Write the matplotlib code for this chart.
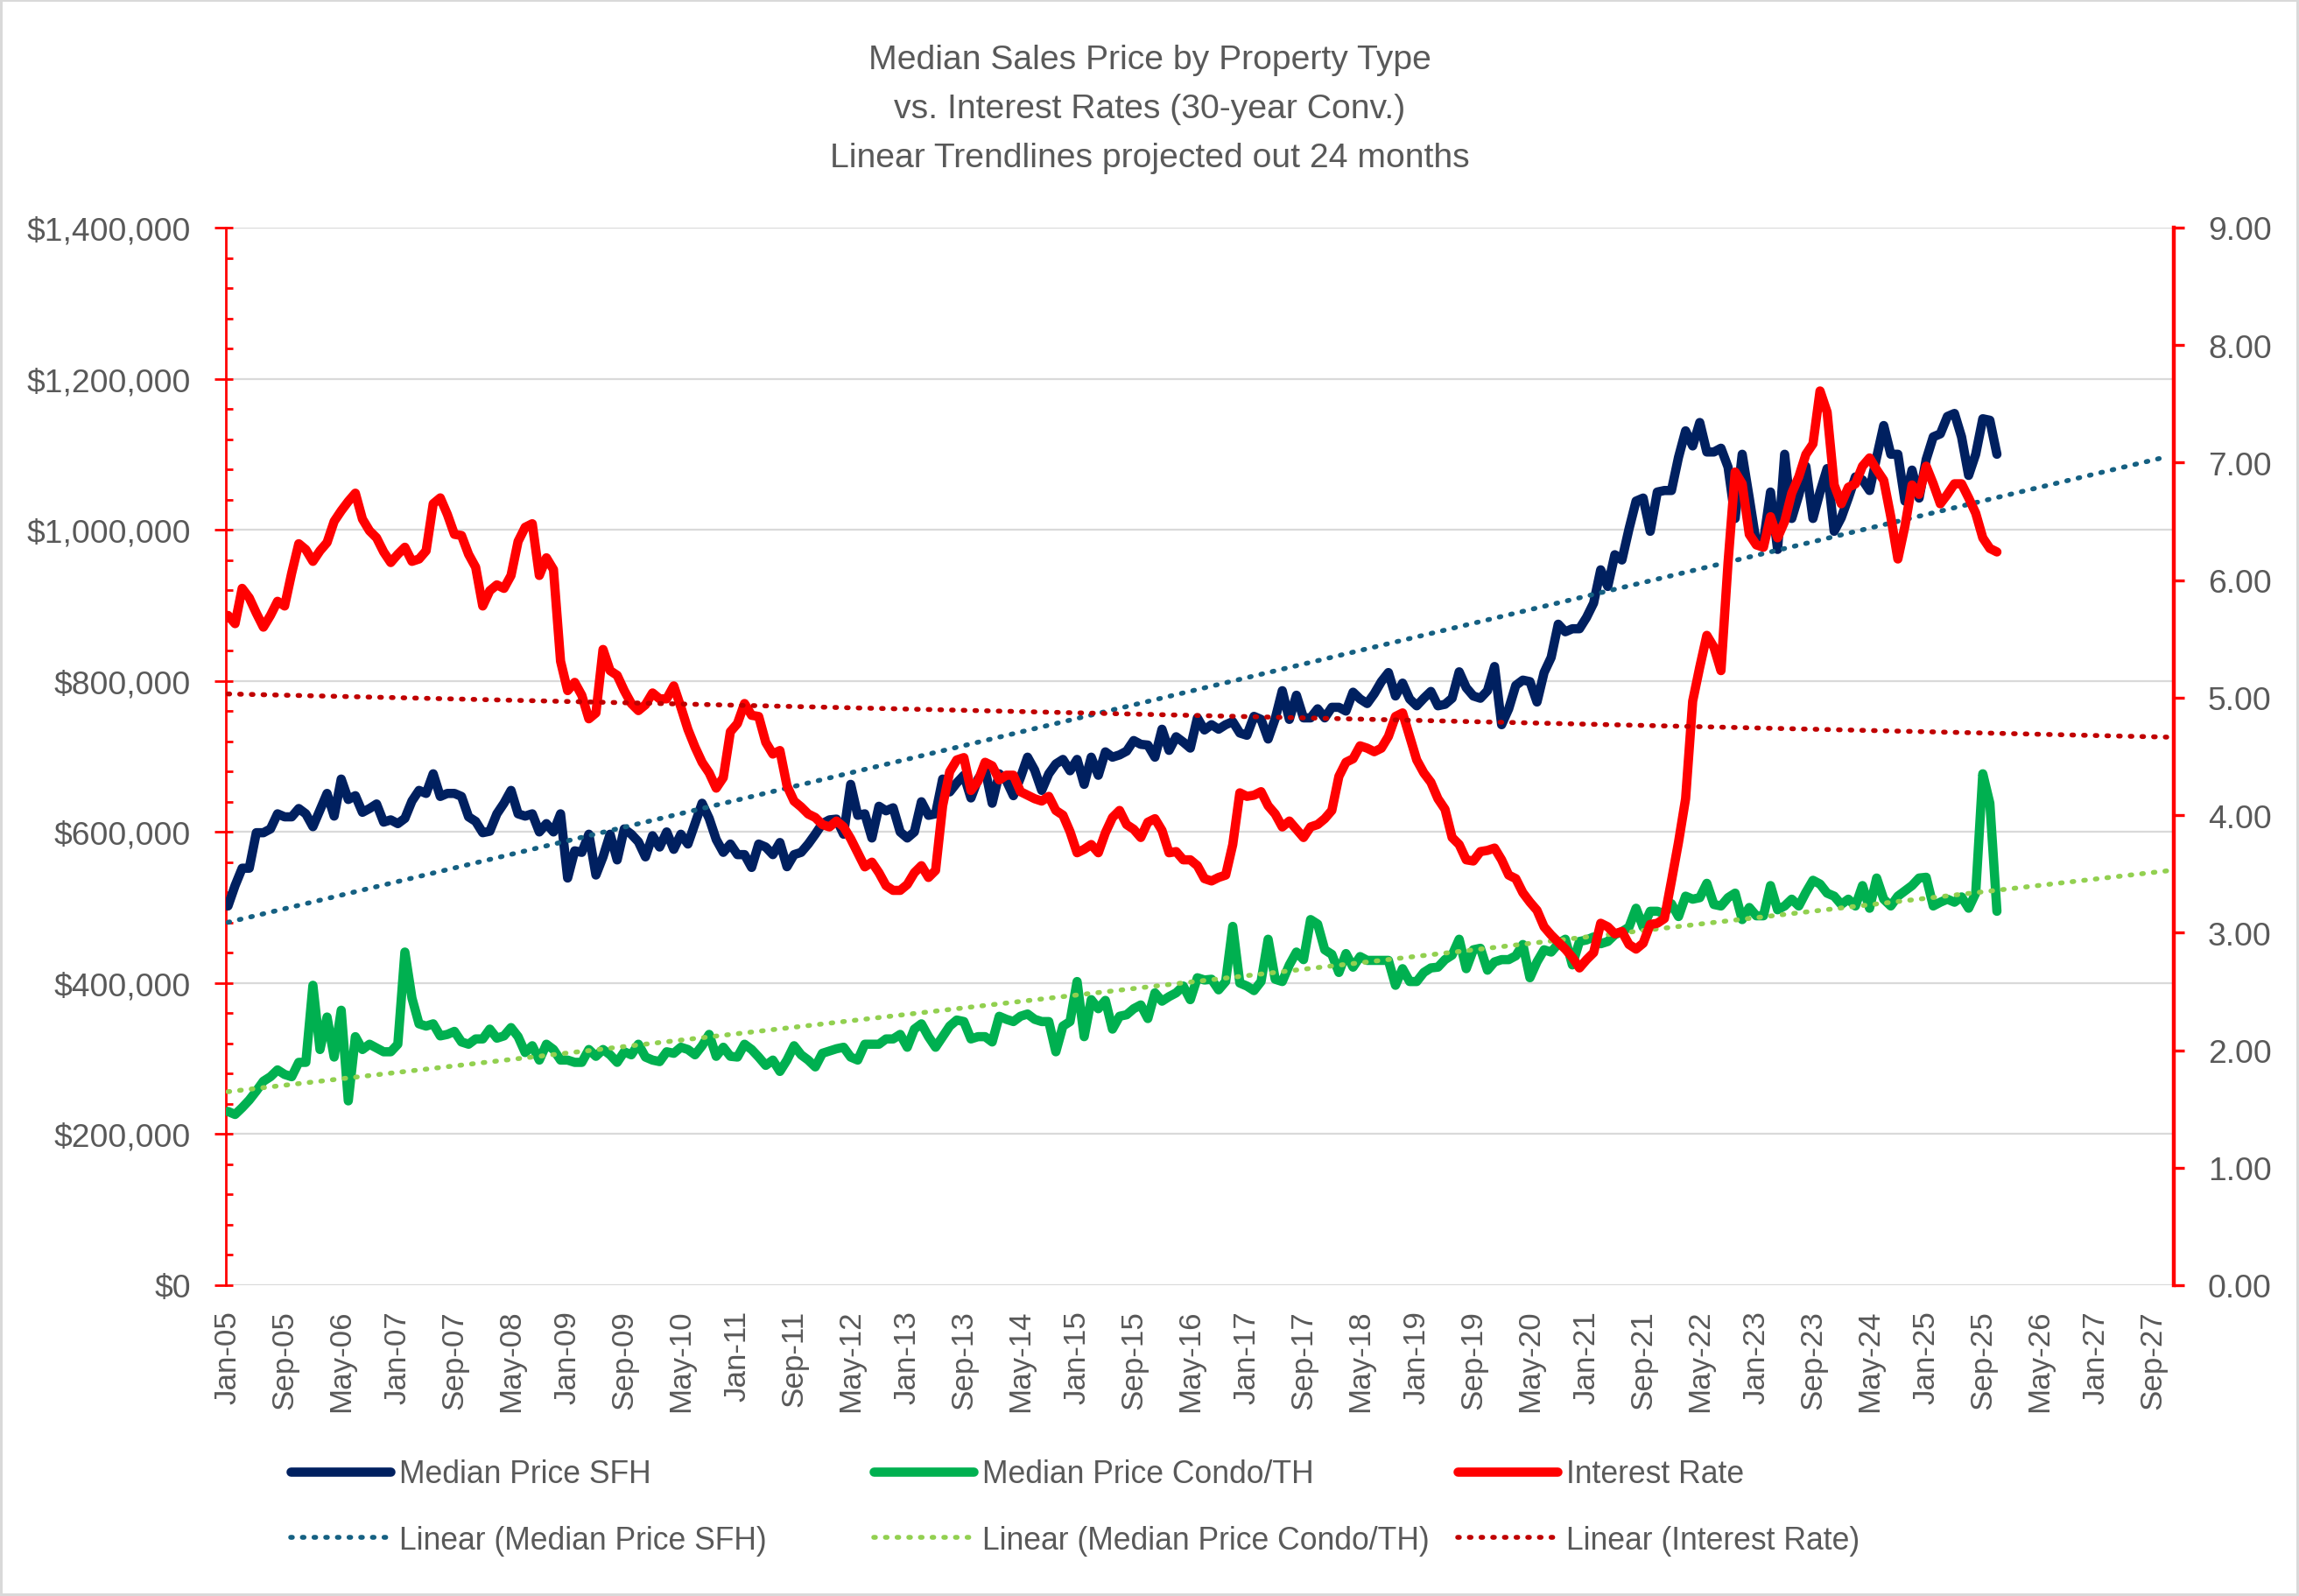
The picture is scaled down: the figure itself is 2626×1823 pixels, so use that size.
import numpy as np
import matplotlib
matplotlib.use("Agg")
import matplotlib.pyplot as plt
from matplotlib.ticker import MultipleLocator, FuncFormatter

# ---------------- data (monthly, Jan-05 .. Nov-25) ----------------
sfh_k = [
    502, 529, 552, 552, 599, 599, 604, 624, 620, 620,
    631, 624, 607, 629, 651, 621, 670, 643, 648, 626,
    631, 637, 613, 616, 611, 618, 641, 655, 651, 677,
    647, 651, 651, 647, 620, 614, 599, 601, 624, 638,
    655, 624, 621, 624, 600, 611, 600, 624, 539, 575,
    573, 597, 543, 567, 597, 563, 604, 597, 587, 567,
    595, 580, 600, 577, 597, 584, 611, 638, 618, 590,
    573, 584, 570, 570, 553, 584, 580, 570, 586, 554,
    570, 573, 584, 597, 611, 616, 617, 597, 663, 622,
    624, 592, 634, 628, 632, 600, 592, 600, 640, 622,
    624, 670, 653, 665, 675, 645, 670, 683, 638, 677,
    668, 648, 672, 699, 682, 655, 677, 690, 696, 681,
    696, 663, 699, 675, 706, 699, 702, 707, 721, 716,
    715, 699, 736, 708, 726, 719, 711, 751, 735, 742,
    736, 742, 746, 731, 728, 753, 749, 723, 750, 787,
    749, 781, 751, 751, 763, 751, 765, 765, 760, 785,
    776, 770, 783, 799, 811, 780, 797, 776, 767, 777,
    786, 767, 769, 777, 812, 791, 780, 777, 787, 819,
    742, 763, 794, 801, 799, 772, 811, 831, 875, 865,
    869, 869, 884, 903, 947, 925, 967, 960, 1001, 1038,
    1042, 998, 1050, 1052, 1052, 1096, 1131, 1111, 1142, 1103,
    1103, 1108, 1083, 1015, 1100, 1042, 982, 984, 1050, 974,
    1100, 1015, 1046, 1084, 1015, 1050, 1081, 998, 1016, 1042,
    1070, 1066, 1052, 1096, 1138, 1100, 1100, 1038, 1079, 1042,
    1093, 1123, 1127, 1150, 1154, 1123, 1072, 1100, 1147, 1145,
    1100,
]

condo_k = [
    230, 226, 235, 245, 257, 270, 276, 285, 279, 276,
    295, 295, 397, 312, 355, 302, 364, 244, 329, 312,
    319, 314, 309, 309, 319, 441, 380, 346, 343, 346,
    330, 332, 336, 322, 319, 326, 326, 339, 327, 330,
    341, 329, 308, 317, 298, 319, 312, 298, 298, 295,
    295, 312, 303, 312, 305, 295, 309, 305, 319, 302,
    298, 296, 309, 307, 315, 312, 305, 317, 332, 303,
    315, 303, 302, 319, 312, 302, 291, 298, 283, 298,
    317, 305, 298, 289, 307, 310, 313, 315, 302, 298,
    319, 319, 319, 326, 326, 332, 315, 339, 346, 329,
    315, 329, 343, 351, 349, 326, 329, 329, 322, 356,
    352, 349, 356, 359, 352, 349, 349, 309, 343, 349,
    402, 329, 378, 366, 377, 339, 356, 358, 366, 371,
    353, 387, 376, 382, 387, 396, 378, 407, 404, 405,
    391, 402, 475, 400, 396, 390, 402, 458, 405, 402,
    424, 441, 431, 484, 478, 444, 438, 414, 439, 421,
    435, 430, 430, 430, 430, 397, 419, 402, 402, 414,
    420, 421, 431, 437, 458, 419, 444, 446, 417, 428,
    431, 431, 436, 451, 407, 428, 444, 441, 452, 458,
    424, 455, 457, 461, 452, 455, 464, 468, 474, 499,
    474, 495, 495, 492, 505, 488, 515, 511, 513, 532,
    504, 502, 513, 519, 484, 500, 489, 489, 529, 497,
    502, 511, 502, 520, 536, 531, 519, 515, 504, 511,
    502, 529, 499, 539, 511, 502, 515, 522, 529, 539,
    540, 502, 507, 511, 507, 514, 499, 519, 677, 638,
    495,
]

rate = [
    5.70, 5.63, 5.93, 5.85, 5.72, 5.60, 5.70, 5.82, 5.78, 6.06, 6.31, 6.26,
    6.16, 6.25, 6.32, 6.50, 6.59, 6.67, 6.74, 6.52, 6.42, 6.36, 6.24, 6.15,
    6.22, 6.28, 6.16, 6.18, 6.25, 6.65, 6.70, 6.56, 6.39, 6.38, 6.22, 6.11,
    5.78, 5.91, 5.96, 5.93, 6.04, 6.33, 6.45, 6.48, 6.04, 6.19, 6.09, 5.31,
    5.06, 5.13, 5.02, 4.82, 4.87, 5.41, 5.23, 5.19, 5.06, 4.95, 4.89, 4.94,
    5.04, 4.99, 4.99, 5.10, 4.92, 4.73, 4.58, 4.45, 4.36, 4.23, 4.32, 4.71,
    4.78, 4.95, 4.85, 4.84, 4.62, 4.52, 4.55, 4.25, 4.12, 4.07, 4.01, 3.98,
    3.92, 3.90, 3.95, 3.90, 3.80, 3.68, 3.56, 3.60, 3.51, 3.40, 3.36, 3.36,
    3.41, 3.51, 3.57, 3.47, 3.53, 4.08, 4.37, 4.47, 4.49, 4.21, 4.29, 4.45,
    4.42, 4.30, 4.34, 4.34, 4.20, 4.17, 4.14, 4.12, 4.16, 4.04, 4.00, 3.86,
    3.68, 3.71, 3.75, 3.68, 3.85, 3.98, 4.04, 3.92, 3.88, 3.81, 3.94, 3.97,
    3.87, 3.68, 3.69, 3.62, 3.62, 3.57, 3.46, 3.44, 3.47, 3.49, 3.75, 4.19,
    4.16, 4.17, 4.20, 4.08, 4.01, 3.90, 3.95, 3.88, 3.81, 3.90, 3.92, 3.97,
    4.04, 4.33, 4.45, 4.48, 4.59, 4.57, 4.54, 4.57, 4.67, 4.84, 4.87, 4.67,
    4.47, 4.36, 4.28, 4.14, 4.05, 3.81, 3.75, 3.62, 3.61, 3.69, 3.70, 3.72,
    3.62, 3.49, 3.46, 3.34, 3.26, 3.19, 3.05, 2.98, 2.92, 2.86, 2.79, 2.70,
    2.77, 2.83, 3.08, 3.05, 2.99, 3.01, 2.90, 2.86, 2.91, 3.07, 3.08, 3.12,
    3.44, 3.77, 4.14, 4.97, 5.26, 5.53, 5.43, 5.23, 6.15, 6.92, 6.82, 6.39,
    6.30, 6.28, 6.54, 6.36, 6.50, 6.74, 6.88, 7.07, 7.16, 7.61, 7.43, 6.81,
    6.65, 6.79, 6.82, 6.97, 7.04, 6.94, 6.85, 6.54, 6.18, 6.46, 6.81, 6.73,
    6.97, 6.82, 6.65, 6.73, 6.82, 6.82, 6.70, 6.57, 6.36, 6.27, 6.24,
]

tick_labels = [
    "Jan-05", "Sep-05", "May-06", "Jan-07", "Sep-07", "May-08", "Jan-09",
    "Sep-09", "May-10", "Jan-11", "Sep-11", "May-12", "Jan-13", "Sep-13",
    "May-14", "Jan-15", "Sep-15", "May-16", "Jan-17", "Sep-17", "May-18",
    "Jan-19", "Sep-19", "May-20", "Jan-21", "Sep-21", "May-22", "Jan-23",
    "Sep-23", "May-24", "Jan-25", "Sep-25", "May-26", "Jan-27", "Sep-27",
]
tick_step_months = 8
projection_months = 24

series_names = ["Median Price SFH", "Median Price Condo/TH", "Interest Rate"]
trend_names = ["Linear (Median Price SFH)", "Linear (Median Price Condo/TH)",
               "Linear (Interest Rate)"]
title_lines = [
    "Median Sales Price by Property Type",
    "vs. Interest Rates (30-year Conv.)",
    "Linear Trendlines projected out 24 months",
]

# ---------------- derived ----------------
sfh = np.array(sfh_k, dtype=float) * 1000
condo = np.array(condo_k, dtype=float) * 1000
rate_a = np.array(rate, dtype=float)
n = len(sfh)
x = np.arange(n)
xt = np.array([0, n - 1 + projection_months], dtype=float)


def trend(y):
    m, b = np.polyfit(x, y, 1)
    return m * xt + b


# ---------------- style ----------------
plt.rcParams["font.family"] = ["Liberation Sans", "DejaVu Sans"]
TXT = "#595959"
GRID = "#D9D9D9"
C_SFH, C_CONDO, C_RATE = "#002060", "#00B050", "#FF0000"
C_SFH_T, C_CONDO_T, C_RATE_T = "#156082", "#92D050", "#C00000"
LW = 3.8
TLW = 2.0
DOTS = (0, (0.35, 2.05))

fig = plt.figure(figsize=(13.13, 9.12), dpi=200)
fig.patch.set_facecolor("white")
fig.patch.set_edgecolor(GRID)
fig.patch.set_linewidth(2.0)

ax = fig.add_axes([0.09825, 0.19463, 0.84730, 0.66228])
ax2 = ax.twinx()

solid_kw = dict(lw=LW, solid_joinstyle="round", solid_capstyle="round")
trend_kw = dict(lw=TLW, ls=DOTS, dash_capstyle="round")

h_sfh, = ax.plot(x, sfh, color=C_SFH, zorder=3, **solid_kw)
h_condo, = ax.plot(x, condo, color=C_CONDO, zorder=3, **solid_kw)
h_sfh_t, = ax.plot(xt, trend(sfh), color=C_SFH_T, zorder=4, **trend_kw)
h_condo_t, = ax.plot(xt, trend(condo), color=C_CONDO_T, zorder=4, **trend_kw)
h_rate, = ax2.plot(x, rate_a, color=C_RATE, zorder=3, **solid_kw)
h_rate_t, = ax2.plot(xt, trend(rate_a), color=C_RATE_T, zorder=4, **trend_kw)

# axes limits / ticks
ax.set_xlim(-0.3, 275)
ax.set_ylim(0, 1400000)
ax2.set_ylim(0, 9)

ax.set_xticks(np.arange(len(tick_labels)) * tick_step_months)
ax.set_xticklabels(tick_labels, rotation=90)
ax.tick_params(axis="x", length=0, pad=10, labelsize=12.6, labelcolor=TXT)

ax.yaxis.set_major_locator(MultipleLocator(200000))
ax.yaxis.set_minor_locator(MultipleLocator(40000))
ax.yaxis.remove_overlapping_locs = False
ax.yaxis.set_major_formatter(FuncFormatter(lambda v, p: f"${v:,.0f}"))
ax.yaxis.tick_left()
ax.tick_params(axis="y", which="major", direction="out", length=4.7, width=1.0,
               color=C_RATE, pad=9.7, labelsize=13.4, labelcolor=TXT)
ax.tick_params(axis="y", which="minor", direction="in", length=2.9, width=1.0,
               color=C_RATE)

ax2.yaxis.set_major_locator(MultipleLocator(1))
ax2.yaxis.set_major_formatter(FuncFormatter(lambda v, p: f"{v:.2f}"))
ax2.tick_params(axis="y", which="major", direction="out", length=4.3, width=1.2,
                color=C_RATE, pad=9.7, labelsize=13.4, labelcolor=TXT)

ax.grid(axis="y", which="major", color=GRID, lw=0.8)
ax.set_axisbelow(True)

for s in ["top", "right", "bottom"]:
    ax.spines[s].set_visible(False)
ax.spines["left"].set_color(C_RATE)
ax.spines["left"].set_linewidth(1.0)
for s in ["top", "left", "bottom"]:
    ax2.spines[s].set_visible(False)
ax2.spines["right"].set_color(C_RATE)
ax2.spines["right"].set_linewidth(1.6)

# title
for txt, yy in zip(title_lines, [0.9565, 0.9260, 0.8953]):
    fig.text(0.5, yy, txt, ha="center", va="baseline", fontsize=14.1, color=TXT)

# legend: three columns, two rows
cols = [((h_sfh, h_sfh_t), (series_names[0], trend_names[0]), 0.1264),
        ((h_condo, h_condo_t), (series_names[1], trend_names[1]), 0.3800),
        ((h_rate, h_rate_t), (series_names[2], trend_names[2]), 0.6340)]
for hs, labs, xpos in cols:
    fig.legend(handles=list(hs), labels=list(labs), loc="center left",
               bbox_to_anchor=(xpos, 0.0557), frameon=False, borderpad=0,
               borderaxespad=0, handlelength=3.2, handletextpad=0.3,
               labelspacing=1.15, fontsize=12.8, labelcolor=TXT)

fig.savefig("out.png", dpi=200, facecolor="white", edgecolor=GRID)
